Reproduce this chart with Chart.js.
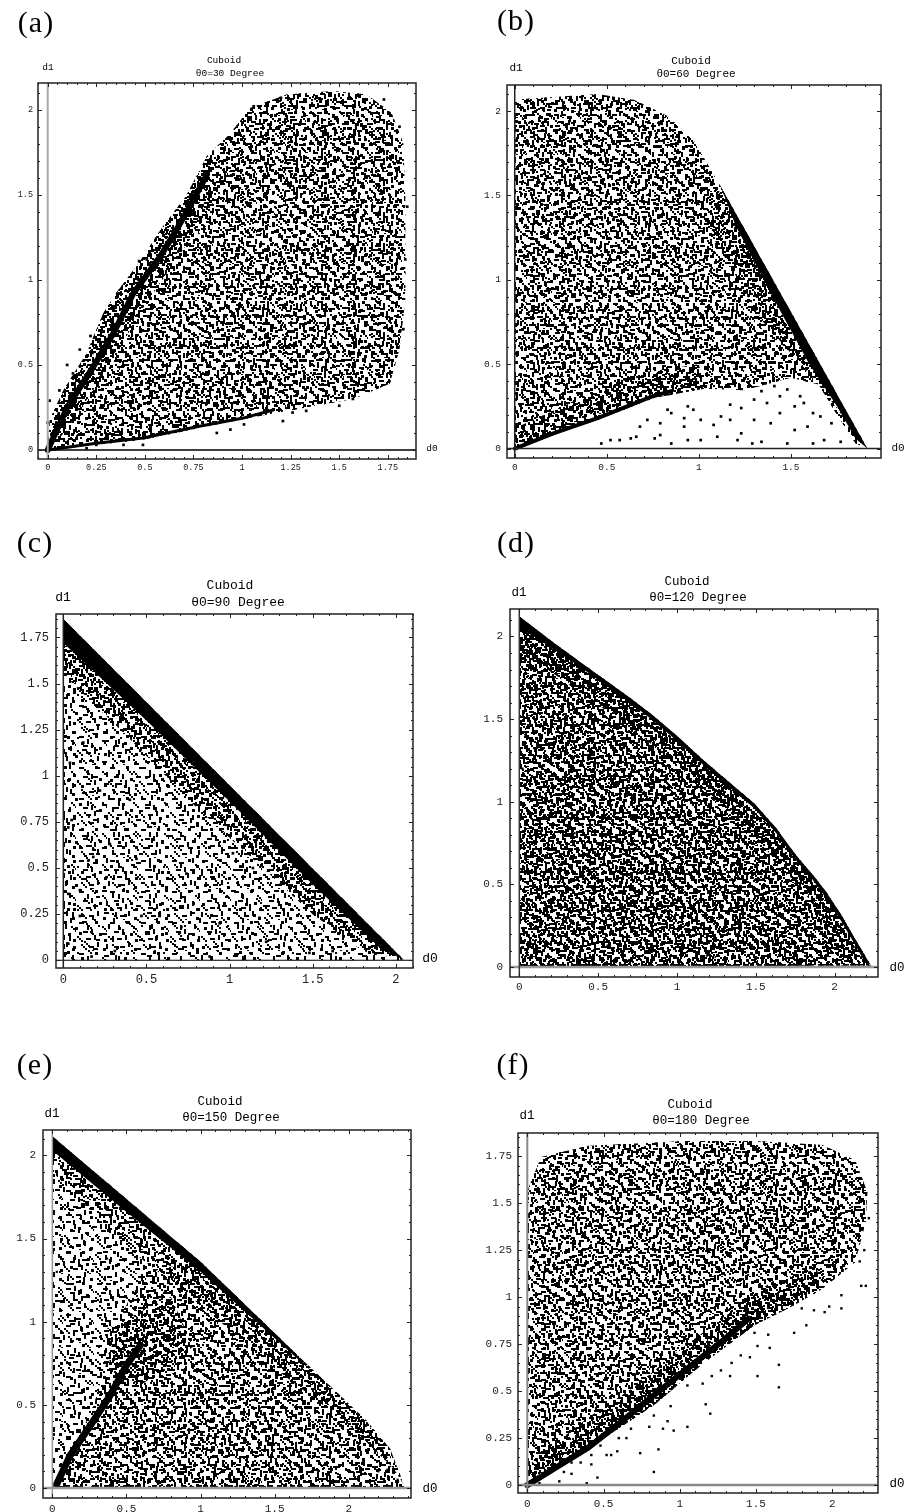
<!DOCTYPE html>
<html>
<head>
<meta charset="utf-8">
<title>Cuboid d0 d1 scatter</title>
<script src="https://cdn.jsdelivr.net/npm/chart.js@4/dist/chart.umd.min.js"></script>
<style>
  html, body { margin: 0; background: #fff; overflow: hidden; }
  #page { position: relative; width: 908px; height: 1512px; filter: blur(0.5px); }
  canvas { position: absolute; }
  .txt { position: absolute; transform: translate(-50%, -50%); white-space: nowrap; color: #000; font-family: "Liberation Mono", monospace; }
  .letter { font-family: "Liberation Serif", serif; font-size: 30px; letter-spacing: 1px; }
</style>
</head>
<body>
<div id="page"></div>
<script>
// tick labels
const aXTicks = [0, 0.25, 0.5, 0.75, 1, 1.25, 1.5, 1.75];
const halfTicks = [0, 0.5, 1, 1.5, 2];
const bXTicks = [0, 0.5, 1, 1.5];
const quarterTicks = [0, 0.25, 0.5, 0.75, 1, 1.25, 1.5, 1.75];

// panel text
const panelLetters = ["(a)", "(b)", "(c)", "(d)", "(e)", "(f)"];
const panelAngles = ["θ0=30 Degree", "θ0=60 Degree", "θ0=90 Degree", "θ0=120 Degree", "θ0=150 Degree", "θ0=180 Degree"];

// (a) outline of the cloud, the two dense bands, stray points
const aCloudX = [0, .49, 1, 1.26, 1.57, 1.76, 1.81, 1.84, 1.84, 1.83, 1.77, 1.64, 1.47, 1.23, 1.04, .94, .82, .71, .59, .47, .35, .285, .2, .08, .01];
const aCloudY = [0, .06, .18, .235, .3, .39, .59, .88, 1.47, 1.8, 1.98, 2.09, 2.11, 2.09, 2.01, 1.86, 1.73, 1.49, 1.31, 1.1, .92, .8, .57, .35, .18];
const aDenseX = [0, .08, .2, .285, .35, .47, .59, .71, .82, .9, .8, .65, .5, .38, .25, .1];
const aDenseY = [0, .35, .57, .8, .92, 1.1, 1.31, 1.49, 1.73, 1.55, 1.35, 1.1, .85, .62, .38, .12];
const aUpperBandX = [0, .1, .235, .34, .44, .58, .65, .73, .82];
const aUpperBandY = [0, .25, .49, .69, .92, 1.14, 1.27, 1.43, 1.62];
const aLowerBandX = [0, .25, .49, .78, 1, 1.16];
const aLowerBandY = [0, .04, .07, .14, .186, .235];
const aDotsX = [.87, .94, 1.01, 1.21, 1.26, 1.5, 1.57, 1.33, .49, .39, .25, .2, .1, .165, .22, .3, .36, .01, 0, .47, .51, .06, .13, .23, 1.06, 1.2, 1.73, 1.81, 1.85, 1.84, 1.83];
const aDotsY = [.1, .12, .15, .17, .22, .26, .3, .23, .03, .03, .03, .01, .5, .59, .67, .81, .92, .29, .16, 1.11, 1.12, .35, .45, .57, 2.02, 2.07, 2.06, 1.9, 1.43, 1.12, .71];

// (b)
const bCloudX = [0, .21, .45, .755, 1.03, 1.245, 1.5, 1.65, 1.75, 1.85, 1.915, 1.12, .97, .83, .65, .45, .03, 0];
const bCloudY = [0, .09, .17, .3, .355, .345, .42, .38, .2, .03, 0, 1.55, 1.83, 1.97, 2.065, 2.1, 2.07, 2.05];
const bBandZoneX = [0, .21, .45, .755, 1.03, 1, .7, .4, .2, 0];
const bBandZoneY = [0, .09, .17, .3, .355, .5, .45, .32, .22, .12];
const bEdgeZoneX = [1.12, 1.915, 1.65, 1.35, 1.05];
const bEdgeZoneY = [1.55, 0, .38, .75, 1.3];
const bSolidX = [1.12, 1.915, 1.85, 1.75, 1.6, 1.4, 1.2];
const bSolidY = [1.55, 0, .06, .25, .5, .9, 1.32];
const bBandX = [0, .21, .45, .75, .85];
const bBandY = [0, .09, .18, .31, .34];
const bDotsX = [.47, .52, .57, .63, .66, .76, .79, .85, .94, 1.01, 1.1, 1.21, 1.29, 1.34, 1.48, 1.62, 1.68, 1.77, .68, .72, .79, .85, .92, 1.01, 1.08, 1.17, 1.23, 1.3, 1.39, 1.44, 1.52, 1.59, 1.66, 1.72, 1.17, 1.23, 1.3, 1.37, 1.44, 1.52, 1.57, 1.62, .97, .94, .83, 1.12, .92, 1.48, 1.34, 1.41, 1.55];
const bDotsY = [.03, .05, .05, .06, .07, .06, .08, .03, .05, .05, .07, .05, .03, .04, .03, .03, .05, .04, .13, .17, .15, .21, .13, .17, .14, .17, .09, .17, .15, .21, .11, .13, .19, .15, .26, .24, .29, .27, .31, .25, .27, .21, .23, .25, .23, .19, .18, .35, .34, .37, .31];

// (c)
const cCloudX = [0, 2.05, 0];
const cCloudY = [0, 0, 1.85];
const cDenseX = [0, 2.05, 1.8, 1.5, 1.2, .8, .4, 0];
const cDenseY = [1.85, 0, .05, .25, .5, .83, 1.2, 1.55];
const cSolidX = [0, 2.05, 1.9, 1.5, 1, .5, 0];
const cSolidY = [1.85, 0, .07, .41, .86, 1.3, 1.72];
const cDotsX = [.18, .18, .15, .03, .05, .03, .1, .7, .71, .58, .44, .5, .4, .26, .88, 1.18, 1.22, .94, .1, .31, .47, .74, 1.02, 1.14, 1.48, 1.62, .17, .03, .12, .04, .22, .28];
const cDotsY = [.6, .56, .54, .72, .76, .36, .38, .15, .18, .24, .55, .99, .87, .45, .02, .23, .1, .2, .24, .05, .24, .47, .58, .5, .04, .05, .02, .09, 1.18, 1.07, .92, .63];

// (d)
const dCloudX = [0, 2.23, 2.18, 2.12, 2.04, 1.95, 1.86, 1.76, 1.63, 1.49, 1.33, 1.17, 1.01, .85, .7, .54, .38, .22, .11, 0];
const dCloudY = [0, .01, .09, .185, .32, .45, .56, .67, .84, .99, 1.12, 1.25, 1.39, 1.52, 1.63, 1.74, 1.85, 1.96, 2.04, 2.12];
const dDenseX = [2.23, 2.05, 1.85, 1.65, 1.35, 1.05, .75, .45, .15, 0, 0, .22, .54, .85, 1.17, 1.49, 1.76, 1.95, 2.12];
const dDenseY = [.01, .05, .4, .62, .94, 1.17, 1.42, 1.62, 1.82, 1.9, 2.12, 1.96, 1.74, 1.52, 1.25, .99, .67, .45, .185];
const dSolidX = [2.23, 2.18, 2.12, 2.04, 1.95, 1.86, 1.76, 1.63, 1.49, 1.33, 1.17, 1.01, .85, .7, .54, .38, .22, .11, 0, 0, .11, .22, .38, .54, .7, .85, 1.01, 1.17, 1.33, 1.49, 1.63, 1.76, 1.86, 1.95, 2.04, 2.12, 2.18];
const dSolidY = [.01, .05, .15, .28, .41, .53, .64, .81, .96, 1.09, 1.22, 1.36, 1.49, 1.6, 1.71, 1.82, 1.92, 1.99, 2.05, 2.12, 2.04, 1.96, 1.85, 1.74, 1.63, 1.52, 1.39, 1.25, 1.12, .99, .84, .67, .56, .45, .32, .185, .09];
const dDotsX = [1.19, 1.23, .07, .56, .75, .35, 2.12, 2.17, 1.98, .02, .04];
const dDotsY = [.07, .06, .15, .13, .83, .81, .12, .06, .38, 1.2, 1.4];

// (e)
const eCloudX = [0, 2.38, 2.37, 2.28, 2.12, 1.63, 1, 0];
const eCloudY = [0, 0, .024, .235, .406, .82, 1.36, 2.115];
const eDenseX = [0, 2.38, 2.12, 1.63, 1, .6, .45, .28, .1];
const eDenseY = [0, 0, .406, .82, 1.36, 1.3, 1, .5, .15];
const eStripX = [0, .5, 1, 1.5, 2, 2.3, 2.37, 2.28, 2.12, 1.63, 1, 0];
const eStripY = [1.9, 1.45, 1.1, .72, .38, .12, .024, .235, .406, .82, 1.36, 2.115];
const ePatchX = [.35, .8, .95, .6, .4];
const ePatchY = [.95, 1.15, .85, .62, .7];
const eSolidX = [0, .5, 1, 1.5, 1.75, 1.63, 1, 0];
const eSolidY = [2.03, 1.66, 1.3, .9, .7, .82, 1.36, 2.115];
const eBandX = [.03, .12, .256, .39, .5, .594];
const eBandY = [.024, .195, .376, .557, .738, .858];
const eDotsX = [2.26, 2.3, 2.21, .12, .37, 1.4, 1.42, .55, 2.2, 2.33, .03, .2];
const eDotsY = [.11, .09, .29, .74, 1.38, .48, .44, .81, .1, .05, 1.3, 1.5];

// (f)
const fCloudX = [0, .4, .83, 1.14, 1.49, 1.71, 1.93, 2.15, 2.22, 2.23, 2.15, 1.93, 1.49, 1.05, .4, .09, .005];
const fCloudY = [0, .195, .425, .637, .85, .94, 1.04, 1.185, 1.4, 1.56, 1.73, 1.81, 1.83, 1.83, 1.805, 1.745, 1.575];
const fZoneX = [0, .4, .83, 1.14, 1.49, 1.71, 1.93, 1.9, 1.6, 1.3, 1, .7, .4, .15, 0];
const fZoneY = [0, .195, .425, .637, .85, .94, 1.04, 1.15, 1.08, .9, .72, .52, .36, .2, .1];
const fBandX = [0, .18, .4, .615, .83, 1.05, 1.27, 1.45];
const fBandY = [0, .09, .2, .336, .478, .62, .76, .885];
const fDotsX = [.08, .21, .24, .29, .39, .46, .83, .42, .52, .55, .59, .74, .86, .6, .65, .68, .8, .89, .96, 1.05, .92, 1.17, 1.2, 1.51, 1.65, 1.65, 1.75, 1.83, 1.59, 1.46, 1.33, 1.15, 1.4, 1.95, 2.06, 2.06, 1.98, 2.19, 2.22, 2.18, 2.21, 2.24, 1.88, 1.8, 1.58, 1.51, .75, .83, .68, .57, .48, .35, .29, .42, 1.05, 1.21, 1.27, 1.34, 1.49, .94];
const fDotsY = [.01, .02, .07, .06, .01, .04, .07, .11, .16, .16, .18, .17, .19, .25, .25, .3, .31, .3, .29, .31, .34, .43, .38, .58, .52, .64, .81, .85, .73, .68, .58, .54, .69, .92, .94, 1.01, .95, 1.06, 1.06, 1.19, 1.25, 1.42, .93, .94, .8, .74, .39, .37, .37, .3, .21, .12, .12, .16, .53, .58, .61, .65, .81, .42];

// speckle tiles for the interior of the clouds (texture, not data)
const tileSizes = [31, 37, 43, 29];
const tileDots = [
  [[3,2],[11,5],[19,1],[26,6],[7,11],[15,9],[23,13],[1,16],[10,18],[18,15],[28,19],[5,24],[13,26],[21,22],[27,28],[16,30]],
  [[1,7],[8,3],[14,11],[22,4],[31,9],[5,15],[12,21],[20,17],[28,14],[35,20],[3,27],[10,32],[17,26],[25,24],[32,29],[21,34],[7,22],[29,2]],
  [[4,1],[13,7],[24,3],[35,6],[41,14],[8,13],[18,16],[29,12],[2,22],[12,25],[22,21],[33,20],[39,28],[6,33],[16,35],[27,30],[36,37],[20,41],[10,40],[31,39],[25,10],[15,1]],
  [[2,4],[9,1],[17,6],[24,3],[6,11],[13,13],[21,10],[27,15],[3,19],[10,21],[18,19],[25,23],[7,26],[15,27]]
];

function makeTile(i, dx, dy) {
  const c = document.createElement("canvas");
  c.width = c.height = tileSizes[i];
  const g = c.getContext("2d");
  g.fillStyle = "#000";
  tileDots[i].forEach((d, n) => {
    // short worms and single blobs, the cloud reads that way
    if (n % 4 === 0) g.fillRect(d[0], d[1], 5, 2);
    else if (n % 4 === 1) g.fillRect(d[0], d[1], 2, 5);
    else if (n % 4 === 2) g.fillRect(d[0], d[1], 3, 3);
    else { g.fillRect(d[0], d[1], 2, 2); g.fillRect(d[0] + 2, d[1] + 2, 2, 2); g.fillRect(d[0] + 4, d[1] + 4, 2, 2); }
  });
  const p = g.createPattern(c, "repeat");
  p.setTransform(new DOMMatrix().translate(dx, dy));
  return p;
}

const pts = (xs, ys) => xs.map((x, i) => ({ x: x, y: ys[i] }));

const panels = [
  { frame: [38, 83, 416, 459], x: [-0.05, 1.895], y: [-0.053, 2.157], xTicks: aXTicks, yTicks: halfTicks, xStep: 0.05, yStep: 0.1, font: 8.5, titleFont: 9.5, pad: 5, xPad: 4,
    regions: [{ d: pts(aCloudX, aCloudY), tiles: [[0,0,0],[1,0,0],[2,0,0],[3,0,0]] }, { d: pts(aDenseX, aDenseY), tiles: [[2,7,9],[3,11,4]] }],
    bands: [{ d: pts(aUpperBandX, aUpperBandY), w: 6 }, { d: pts(aLowerBandX, aLowerBandY), w: 3 }],
    dots: pts(aDotsX, aDotsY), r: 1.9, axisX: ["#aaa", 2], axisY: ["#000", 1.5],
    text: { letter: [36, 22], t1: [224, 60], t2: [230, 73], d1: [48, 67], d0: [432, 448] } },
  { frame: [507, 85, 881, 458], x: [-0.042, 1.989], y: [-0.056, 2.154], xTicks: bXTicks, yTicks: halfTicks, xStep: 0.1, yStep: 0.1, font: 9.5, titleFont: 11, pad: 6, xPad: 4,
    regions: [{ d: pts(bCloudX, bCloudY), tiles: [[0,0,0],[1,0,0],[2,0,0],[3,0,0]] }, { d: pts(bBandZoneX, bBandZoneY), tiles: [[2,7,9],[3,11,4]] }, { d: pts(bEdgeZoneX, bEdgeZoneY), tiles: [[2,7,9],[3,11,4]] }],
    solids: [pts(bSolidX, bSolidY)],
    bands: [{ d: pts(bBandX, bBandY), w: 4 }],
    dots: pts(bDotsX, bDotsY), r: 1.9, axisX: ["#222", 1.5], axisY: ["#222", 1.5],
    text: { letter: [516, 20], t1: [691, 61], t2: [696, 74], d1: [516, 68], d0: [898, 448] } },
  { frame: [56, 614, 413, 968], x: [-0.044, 2.103], y: [-0.042, 1.877], xTicks: halfTicks, yTicks: quarterTicks, xStep: 0.1, yStep: 0.05, font: 12, titleFont: 13, pad: 7, xPad: 5,
    regions: [{ d: pts(cCloudX, cCloudY), tiles: [[0,0,0],[2,0,0]] }, { d: pts(cDenseX, cDenseY), tiles: [[1,0,0],[3,0,0],[0,9,14]] }],
    solids: [pts(cSolidX, cSolidY)],
    dots: pts(cDotsX, cDotsY), r: 1.9, axisX: ["#222", 1.5], axisY: ["#000", 1.2],
    text: { letter: [35, 542], t1: [230, 585], t2: [238, 602], d1: [63, 597], d0: [430, 958] } },
  { frame: [510, 609, 878, 977], x: [-0.059, 2.275], y: [-0.06, 2.166], xTicks: halfTicks, yTicks: halfTicks, xStep: 0.1, yStep: 0.1, font: 11, titleFont: 12.5, pad: 7, xPad: 3,
    regions: [{ d: pts(dCloudX, dCloudY), tiles: [[0,0,0],[1,0,0],[2,0,0],[3,0,0],[0,12,7],[1,5,19]] }, { d: pts(dDenseX, dDenseY), tiles: [[2,8,3],[3,14,11]] }],
    solids: [pts(dSolidX, dSolidY)],
    dots: pts(dDotsX, dDotsY), r: 1.6, axisX: ["#333", 1.5], axisY: ["#999", 2.5],
    text: { letter: [516, 542], t1: [687, 582], t2: [698, 598], d1: [519, 593], d0: [897, 968] } },
  { frame: [43, 1130, 411, 1498], x: [-0.063, 2.42], y: [-0.06, 2.153], xTicks: halfTicks, yTicks: halfTicks, xStep: 0.1, yStep: 0.1, font: 11, titleFont: 12.5, pad: 7, xPad: 4,
    regions: [{ d: pts(eCloudX, eCloudY), tiles: [[0,0,0],[1,0,0]] }, { d: pts(eDenseX, eDenseY), tiles: [[2,0,0],[3,0,0]] }, { d: pts(eStripX, eStripY), tiles: [[2,6,11],[3,13,4]] }, { d: pts(ePatchX, ePatchY), tiles: [[1,9,6],[0,6,20]] }],
    solids: [pts(eSolidX, eSolidY)],
    bands: [{ d: pts(eBandX, eBandY), w: 7 }],
    dots: pts(eDotsX, eDotsY), r: 1.5, axisX: ["#999", 1.5], axisY: ["#999", 2.5],
    text: { letter: [35, 1064], t1: [220, 1102], t2: [231, 1118], d1: [52, 1114], d0: [430, 1489] } },
  { frame: [518, 1133, 878, 1493], x: [-0.061, 2.3], y: [-0.042, 1.873], xTicks: halfTicks, yTicks: quarterTicks, xStep: 0.1, yStep: 0.05, font: 11, titleFont: 12.5, pad: 6, xPad: 4,
    regions: [{ d: pts(fCloudX, fCloudY), tiles: [[0,0,0],[1,0,0],[2,0,0],[3,0,0]] }, { d: pts(fZoneX, fZoneY), tiles: [[2,7,9],[3,11,4],[1,4,13]] }],
    bands: [{ d: pts(fBandX, fBandY), w: 6 }],
    dots: pts(fDotsX, fDotsY), r: 1.7, axisX: ["#888", 2], axisY: ["#888", 2.5],
    text: { letter: [513, 1064], t1: [690, 1105], t2: [701, 1121], d1: [527, 1116], d0: [897, 1484] } }
];

const frameTicks = {
  id: "frameTicks",
  afterDatasetsDraw(chart, args, opts) {
    const { ctx, chartArea: a, scales } = chart;
    ctx.save();
    ctx.strokeStyle = "#222";
    ctx.lineWidth = 1;
    const mark = (scale, v, len) => {
      const p = Math.round(scale.getPixelForValue(v)) + 0.5;
      ctx.beginPath();
      if (scale.axis === "x") {
        ctx.moveTo(p, a.bottom); ctx.lineTo(p, a.bottom - len);
        ctx.moveTo(p, a.top); ctx.lineTo(p, a.top + len);
      } else {
        ctx.moveTo(a.left, p); ctx.lineTo(a.left + len, p);
        ctx.moveTo(a.right, p); ctx.lineTo(a.right - len, p);
      }
      ctx.stroke();
    };
    [[scales.x, opts.xStep, opts.xTicks], [scales.y, opts.yStep, opts.yTicks]].forEach(([scale, step, major]) => {
      for (let i = Math.ceil(scale.min / step); i * step <= scale.max; i++) mark(scale, i * step, 2);
      major.forEach(v => mark(scale, v, 4));
    });
    ctx.lineWidth = 1.5;
    ctx.strokeRect(a.left, a.top, a.right - a.left, a.bottom - a.top);
    ctx.restore();
  }
};

function fillSet(data, tiles) {
  return tiles.map(t => ({
    data: data, showLine: true, fill: "shape", borderWidth: 0, pointRadius: 0,
    backgroundColor: makeTile(t[0], t[1], t[2]), order: 5
  }));
}

const MARGIN_LEFT = 42, MARGIN_BOTTOM = 22, PAD = 4;
const page = document.getElementById("page");

function addText(str, pos, cls, size) {
  const el = document.createElement("div");
  el.className = "txt " + cls;
  el.textContent = str;
  el.style.left = pos[0] + "px";
  el.style.top = pos[1] + "px";
  if (size) el.style.fontSize = size + "px";
  page.appendChild(el);
}

panels.forEach((p, i) => {
  const [l, t, r, b] = p.frame;
  const canvas = document.createElement("canvas");
  canvas.width = r - l + MARGIN_LEFT + PAD;
  canvas.height = b - t + MARGIN_BOTTOM + PAD;
  canvas.style.left = (l - MARGIN_LEFT) + "px";
  canvas.style.top = (t - PAD) + "px";
  page.appendChild(canvas);

  let datasets = [];
  p.regions.forEach(g => { datasets = datasets.concat(fillSet(g.d, g.tiles)); });
  (p.solids || []).forEach(s => datasets.push({ data: s, showLine: true, fill: "shape", borderWidth: 0, pointRadius: 0, backgroundColor: "#000", order: 4 }));
  (p.bands || []).forEach(s => datasets.push({ data: s.d, showLine: true, borderColor: "#000", borderWidth: s.w, borderCapStyle: "round", pointRadius: 0, order: 4 }));
  datasets.push({ data: p.dots, pointStyle: "rect", pointRadius: p.r, backgroundColor: "#000", borderWidth: 0, order: 3 });
  // the d0 and d1 axes through zero
  datasets.push({ data: [{ x: 0, y: p.y[0] }, { x: 0, y: p.y[1] }], showLine: true, pointRadius: 0, borderColor: p.axisX[0], borderWidth: p.axisX[1], order: 1 });
  datasets.push({ data: [{ x: p.x[0], y: 0 }, { x: p.x[1], y: 0 }], showLine: true, pointRadius: 0, borderColor: p.axisY[0], borderWidth: p.axisY[1], order: 1 });

  const tickFont = { family: "'Liberation Mono', monospace", size: p.font };
  new Chart(canvas, {
    type: "scatter",
    data: { datasets: datasets },
    options: {
      responsive: false,
      animation: false,
      events: [],
      layout: { autoPadding: false, padding: { top: PAD, right: PAD, left: 0, bottom: 0 } },
      plugins: {
        legend: { display: false },
        tooltip: { enabled: false },
        frameTicks: { xStep: p.xStep, yStep: p.yStep, xTicks: p.xTicks, yTicks: p.yTicks }
      },
      scales: {
        x: {
          type: "linear", min: p.x[0], max: p.x[1],
          grid: { display: false, drawTicks: false }, border: { display: false },
          afterFit: s => { s.height = MARGIN_BOTTOM; s.paddingLeft = 0; s.paddingRight = 0; },
          afterBuildTicks: s => { s.ticks = p.xTicks.map(v => ({ value: v })); },
          ticks: { font: tickFont, color: "#222", padding: p.xPad, maxRotation: 0, autoSkip: false, callback: v => String(v) }
        },
        y: {
          type: "linear", min: p.y[0], max: p.y[1],
          grid: { display: false, drawTicks: false }, border: { display: false },
          afterFit: s => { s.width = MARGIN_LEFT; s.paddingTop = 0; s.paddingBottom = 0; },
          afterBuildTicks: s => { s.ticks = p.yTicks.map(v => ({ value: v })); },
          ticks: { font: tickFont, color: "#222", padding: p.pad, autoSkip: false, callback: v => String(v) }
        }
      }
    },
    plugins: [frameTicks]
  });

  addText(panelLetters[i], p.text.letter, "letter");
  addText("Cuboid", p.text.t1, "", p.titleFont);
  addText(panelAngles[i], p.text.t2, "", p.titleFont);
  addText("d1", p.text.d1, "", p.titleFont);
  addText("d0", p.text.d0, "", p.titleFont);
});
</script>
</body>
</html>
